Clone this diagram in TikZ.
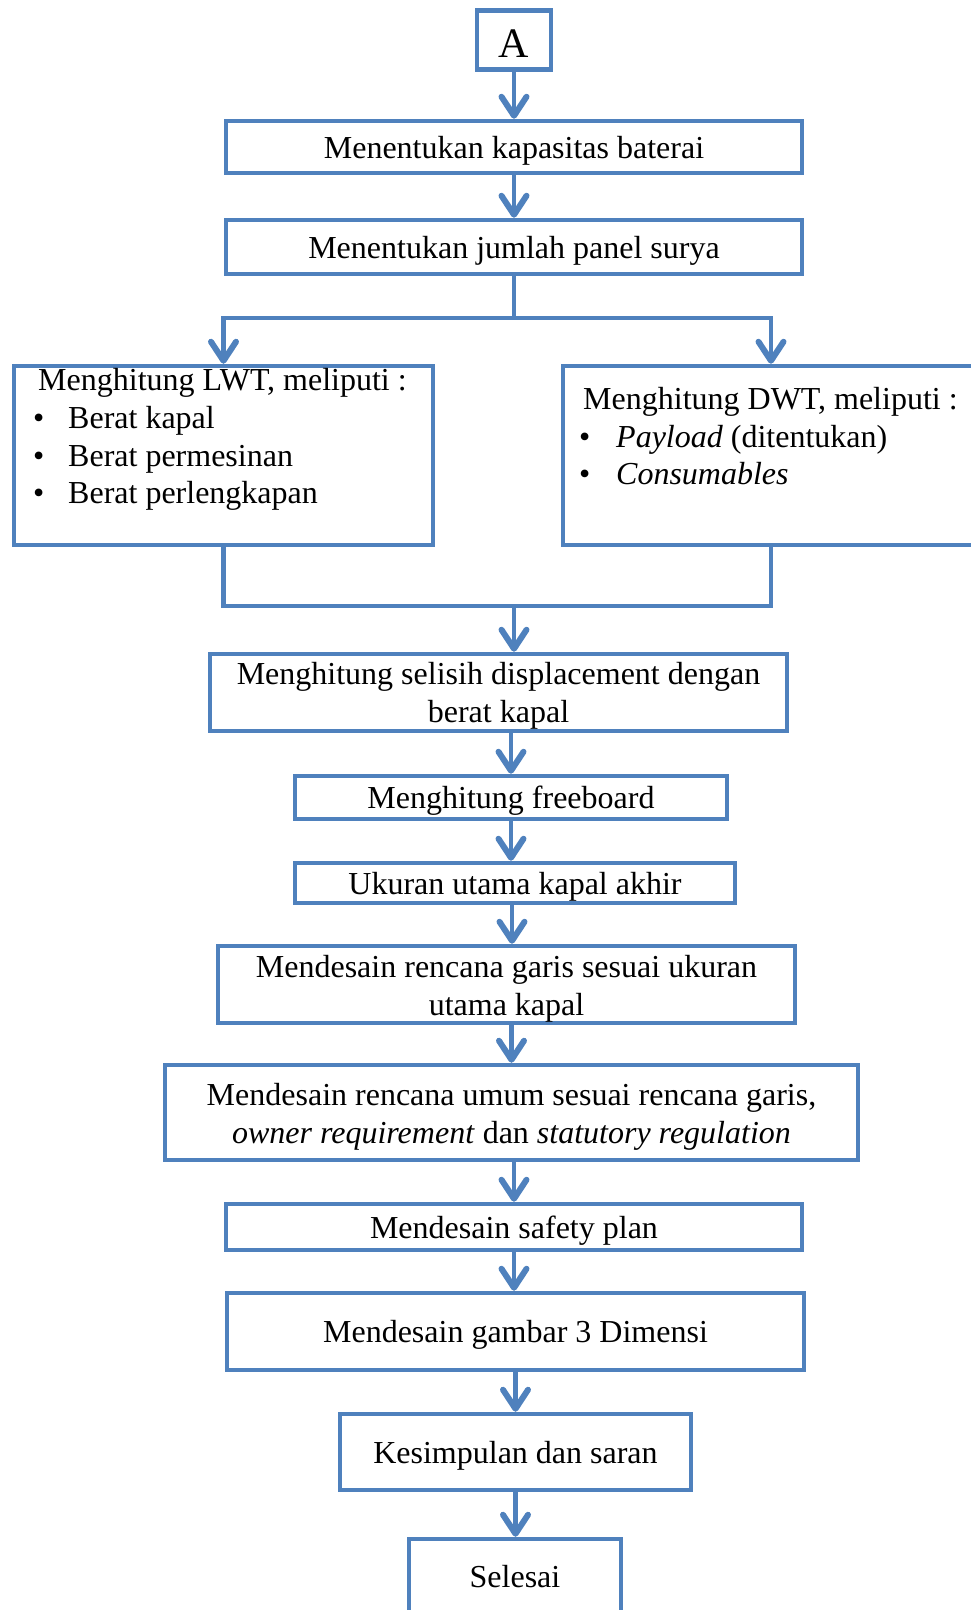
\documentclass[tikz,border=0pt]{standalone}
\usepackage{fontspec}
\setmainfont{Liberation Serif}
\usetikzlibrary{arrows.meta}
\definecolor{flow}{RGB}{79,129,189}
\begin{document}
\begin{tikzpicture}[x=1pt,y=-1pt,
  box/.style={draw=flow, line width=4.5pt, rectangle, inner sep=0pt,
    font=\fontsize{32}{38}\selectfont, text height=27pt, text depth=5pt},
  lbl/.style={inner sep=0pt, font=\fontsize{32}{38}\selectfont},
  line/.style={draw=flow, line width=4.5pt},
  arr/.style={line, -{Straight Barb[length=19pt,width=25pt,line width=6pt,round]}}]
\useasboundingbox (0,0) rectangle (971,1610);
\clip (0,0) rectangle (971,1610);

% boxes
\node[box, minimum width=74pt, minimum height=59pt,
  font=\fontsize{42}{48}\selectfont, text height=34pt, text depth=0pt] (a) at (514,40) {A};
\node[box, minimum width=576pt, minimum height=52pt] (b1) at (514,147) {Menentukan kapasitas baterai};
\node[box, minimum width=576pt, minimum height=54pt] (b2) at (514,247) {Menentukan jumlah panel surya};
\node[box, minimum width=419pt, minimum height=179pt] (lwt) at (223.5,455.5) {};
\node[box, minimum width=416pt, minimum height=179pt] (dwt) at (771,455.5) {};
\node[box, minimum width=577pt, minimum height=77pt] (sel) at (498.5,692.5) {};
\node[box, minimum width=432pt, minimum height=43pt] (fb) at (511,797.5) {Menghitung freeboard};
\node[box, minimum width=440pt, minimum height=40pt] (uk) at (515,883) {Ukuran utama kapal akhir};
\node[box, minimum width=577pt, minimum height=77pt] (gar) at (506.5,984.5) {};
\node[box, minimum width=693pt, minimum height=95pt] (umum) at (511.5,1112.5) {};
\node[box, minimum width=576pt, minimum height=46pt] (saf) at (514,1227) {Mendesain safety plan};
\node[box, minimum width=577pt, minimum height=77pt] (dim) at (515.5,1331.5) {Mendesain gambar 3 Dimensi};
\node[box, minimum width=351pt, minimum height=76pt] (kes) at (515.5,1452) {Kesimpulan dan saran};
\node[box, minimum width=212pt, minimum height=74pt] (fin) at (515,1576) {Selesai};

% LWT text
\node[lbl, anchor=base west] (lwt0) at (38,390) {Menghitung LWT, meliputi :};
\node[lbl, anchor=base west] (lwtb1) at (33,428) {•};
\node[lbl, anchor=base west] (lwt1) at (68,428) {Berat kapal};
\node[lbl, anchor=base west] (lwtb2) at (33,466) {•};
\node[lbl, anchor=base west] (lwt2) at (68,466) {Berat permesinan};
\node[lbl, anchor=base west] (lwtb3) at (33,503) {•};
\node[lbl, anchor=base west] (lwt3) at (68,503) {Berat perlengkapan};

% DWT text
\node[lbl, anchor=base west] (dwt0) at (583,409) {Menghitung DWT, meliputi :};
\node[lbl, anchor=base west] (dwtb1) at (579,447) {•};
\node[lbl, anchor=base west] (dwt1) at (616,447) {\textit{Payload} (ditentukan)};
\node[lbl, anchor=base west] (dwtb2) at (579,484) {•};
\node[lbl, anchor=base west] (dwt2) at (616,484) {\textit{Consumables}};

% two-line box texts
\node[lbl, anchor=base] (sel1) at (498.5,684) {Menghitung selisih displacement dengan};
\node[lbl, anchor=base] (sel2) at (498.5,722) {berat kapal};
\node[lbl, anchor=base] (gar1) at (506.5,977) {Mendesain rencana garis sesuai ukuran};
\node[lbl, anchor=base] (gar2) at (506.5,1015) {utama kapal};
\node[lbl, anchor=base] (umum1) at (511.5,1105) {Mendesain rencana umum sesuai rencana garis,};
\node[lbl, anchor=base] (umum2) at (511.5,1143) {\textit{owner requirement} dan \textit{statutory regulation}};

% connectors
\coordinate (s) at (514,318);
\coordinate (m) at (514,606);
\coordinate (c512) at (512,0);
\draw[arr] (a.south) -- (b1.north);
\draw[arr] (b1.south) -- (b2.north);
\draw[line] (b2.south) -- (s);
\draw[arr] (s) -| (lwt.north);
\draw[arr] (s) -| (dwt.north);
\draw[line] (lwt.south) -- (lwt.south |- m) -- (dwt.south |- m) -- (dwt.south);
\draw[arr] (m) -- (sel.north -| m);
\draw[arr] (sel.south -| fb.north) -- (fb.north);
\draw[arr] (fb.south) -- (uk.north -| fb.south);
\draw[arr] (uk.south -| c512) -- (gar.north -| c512);
\draw[arr] (gar.south -| umum.north) -- (umum.north);
\draw[arr] (umum.south -| saf.north) -- (saf.north);
\draw[arr] (saf.south) -- (dim.north -| saf.south);
\draw[arr] (dim.south) -- (kes.north);
\draw[arr] (kes.south) -- (fin.north -| kes.south);
\end{tikzpicture}
\end{document}
